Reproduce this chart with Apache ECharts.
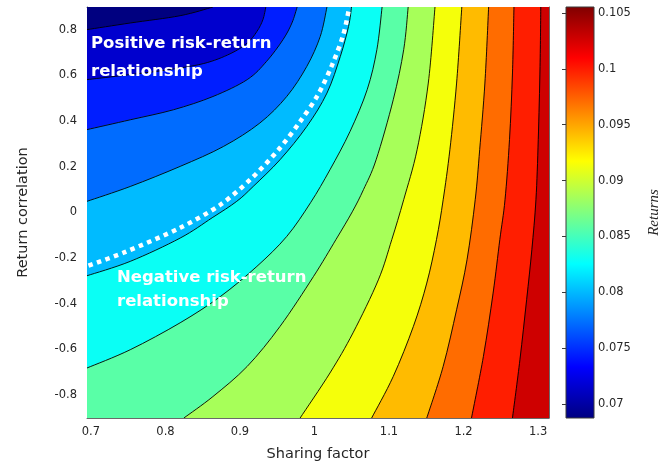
<!DOCTYPE html>
<html><head><meta charset="utf-8">
<script src="https://cdn.jsdelivr.net/npm/echarts@6.0.0/dist/echarts.min.js"></script>
<style>html,body{margin:0;padding:0;background:#fff}#c{width:664px;height:469px}</style>
</head><body><div id="c"></div>
<script>
// ---- axis ranges and ticks ----
const xRange = [0.69, 1.31];
const yRange = [-0.9, 0.9];
const xTicks = [0.7, 0.8, 0.9, 1, 1.1, 1.2, 1.3];
const yTicks = [-0.8, -0.6, -0.4, -0.2, 0, 0.2, 0.4, 0.6, 0.8];
const cbRange = [0.06875, 0.10554];
const cbTicks = [0.07, 0.075, 0.08, 0.085, 0.09, 0.095, 0.1, 0.105];

// ---- band (filled contour) levels: value of each band's lower bound ----
const levels = [0.06875, 0.07158, 0.07441, 0.07724, 0.08007, 0.08290, 0.08573,
                0.08856, 0.09139, 0.09422, 0.09705, 0.09988, 0.10271];

// ---- contour lines (sharing factor, return correlation), one per level 1..12 ----
const contour01 = [[0.69,0.801],[0.748,0.830],[0.815,0.862],[0.859,0.9]];
const contour02 = [[0.69,0.582],[0.735,0.599],[0.792,0.622],[0.846,0.652],[0.882,0.695],[0.905,0.742],[0.918,0.793],[0.926,0.844],[0.930,0.9]];
const contour03 = [[0.69,0.363],[0.748,0.406],[0.806,0.45],[0.859,0.508],[0.905,0.582],[0.931,0.662],[0.953,0.757],[0.965,0.83],[0.972,0.9]];
const contour04 = [[0.69,0.049],[0.748,0.114],[0.815,0.202],[0.873,0.289],[0.922,0.392],[0.958,0.508],[0.985,0.64],[1.003,0.771],[1.012,0.9]];
const contour05 = [[0.69,-0.277],[0.748,-0.214],[0.815,-0.112],[0.858,-0.023],[0.891,0.049],[0.913,0.114],[0.949,0.231],[0.985,0.377],[1.012,0.523],[1.030,0.684],[1.041,0.815],[1.045,0.9]];
const contour06 = [[0.69,-0.681],[0.748,-0.601],[0.815,-0.483],[0.869,-0.368],[0.918,-0.236],[0.958,-0.105],[0.990,0.043],[1.016,0.187],[1.043,0.355],[1.066,0.538],[1.079,0.713],[1.086,0.9]];
const contour07 = [[0.820,-0.9],[0.859,-0.806],[0.905,-0.674],[0.949,-0.499],[0.994,-0.28],[1.024,-0.119],[1.046,0.003],[1.061,0.100],[1.078,0.231],[1.101,0.494],[1.115,0.713],[1.121,0.9]];
const contour08 = [[0.976,-0.9],[1.016,-0.703],[1.047,-0.527],[1.081,-0.295],[1.099,-0.119],[1.115,0.056],[1.133,0.275],[1.148,0.567],[1.157,0.9]];
const contour09 = [[1.072,-0.9],[1.101,-0.718],[1.128,-0.499],[1.146,-0.309],[1.159,-0.119],[1.168,0.056],[1.177,0.275],[1.186,0.567],[1.193,0.9]];
const contour10 = [[1.146,-0.9],[1.168,-0.674],[1.186,-0.426],[1.200,-0.207],[1.211,0.056],[1.217,0.275],[1.224,0.567],[1.229,0.9]];
const contour11 = [[1.206,-0.9],[1.222,-0.630],[1.235,-0.353],[1.244,-0.119],[1.251,0.056],[1.257,0.319],[1.261,0.611],[1.263,0.9]];
const contour12 = [[1.261,-0.9],[1.271,-0.645],[1.280,-0.382],[1.287,-0.163],[1.2925,0.056],[1.2956,0.319],[1.298,0.64],[1.299,0.9]];

// ---- white dotted boundary between positive / negative risk-return ----
const boundaryLine = [[0.692,-0.233],[0.739,-0.176],[0.815,-0.067],[0.869,0.034],[0.909,0.144],[0.947,0.275],[0.976,0.398],[1.000,0.516],[1.019,0.647],[1.034,0.779],[1.042,0.9]];

const contours = [contour01, contour02, contour03, contour04, contour05, contour06,
                  contour07, contour08, contour09, contour10, contour11, contour12];

// jet colormap
const jet = ['#000080','#0000ff','#0080ff','#00ffff','#80ff80','#ffff00','#ff8000','#ff0000','#800000'];

const FONT = "'DejaVu Sans', Verdana, sans-serif";
const TXT = '#262626';
const fmt = v => String(Math.round(v * 1000) / 1000);

// Catmull-Rom style smooth path through pixel points (rendering only)
function smoothD(pts) {
  let d = 'M' + pts[0][0] + ' ' + pts[0][1];
  for (let i = 0; i < pts.length - 1; i++) {
    const p0 = pts[i - 1] || pts[i], p1 = pts[i], p2 = pts[i + 1], p3 = pts[i + 2] || p2;
    const c1 = [p1[0] + (p2[0] - p0[0]) / 6, p1[1] + (p2[1] - p0[1]) / 6];
    const c2 = [p2[0] - (p3[0] - p1[0]) / 6, p2[1] - (p3[1] - p1[1]) / 6];
    d += ' C' + c1[0] + ' ' + c1[1] + ' ' + c2[0] + ' ' + c2[1] + ' ' + p2[0] + ' ' + p2[1];
  }
  return d;
}

function renderBand(params, api) {
  const i = params.dataIndex;
  const [x0, x1] = xRange, [y0, y1] = yRange;
  const col = api.visual('color');
  if (i === 0) {
    const a = api.coord([x0, y1]), b = api.coord([x1, y0]);
    return { type: 'rect', z2: 0, shape: { x: a[0], y: a[1], width: b[0] - a[0], height: b[1] - a[1] },
             style: { fill: col } };
  }
  const ln = contours[i - 1];
  const px = ln.map(p => api.coord(p));
  const corners = [[x1, y1], [x1, y0], [ln[0][0], y0]].map(p => api.coord(p));
  let d = smoothD(px);
  corners.forEach(c => { d += ' L' + c[0] + ' ' + c[1]; });
  d += ' Z';
  return {
    type: 'group',
    children: [
      { type: 'path', z2: i, shape: { pathData: d }, style: { fill: col, stroke: col, lineWidth: 0.6 } },
      { type: 'path', z2: 100 + i, shape: { pathData: smoothD(px) }, style: { stroke: '#000', lineWidth: 0.9, fill: null } }
    ]
  };
}

function renderColorbar(params, api) {
  const a = api.coord([0, cbRange[1]]);
  const b = api.coord([1, cbRange[0]]);
  const stops = jet.slice().reverse().map((c, k) => ({ offset: k / (jet.length - 1), color: c }));
  return {
    type: 'rect',
    shape: { x: a[0], y: a[1], width: b[0] - a[0], height: b[1] - a[1] },
    style: { fill: new echarts.graphic.LinearGradient(0, 0, 0, 1, stops), stroke: '#3a3a3a', lineWidth: 1 }
  };
}

const axisLineStyle = { color: '#6a6a6a', width: 1 };
const tickStyle = { color: '#3a3a3a', width: 1 };

const chart = echarts.init(document.getElementById('c'), null, { renderer: 'canvas' });
chart.setOption({
  animation: false,
  backgroundColor: '#fff',
  grid: [
    { left: 87, top: 7, width: 462, height: 411 },
    { left: 566, top: 7, width: 28, height: 411 }
  ],
  visualMap: {
    show: false, type: 'continuous', seriesIndex: 0, dimension: 1,
    min: cbRange[0], max: cbRange[1], inRange: { color: jet }
  },
  xAxis: [
    { gridIndex: 0, type: 'value', min: xRange[0], max: xRange[1], position: 'bottom',
      axisLine: { onZero: false, lineStyle: axisLineStyle },
      axisTick: { inside: true, length: 5, customValues: xTicks, lineStyle: tickStyle },
      axisLabel: { customValues: xTicks, formatter: fmt, color: TXT, fontSize: 11.5, fontFamily: FONT, margin: 8, padding: [0, 7, 0, 0] },
      splitLine: { show: false },
      name: 'Sharing factor', nameLocation: 'middle', nameGap: 29, nameMoveOverlap: false,
      nameTextStyle: { color: TXT, fontSize: 14.5, fontFamily: FONT } },
    { gridIndex: 0, type: 'value', min: xRange[0], max: xRange[1], position: 'top',
      axisLine: { onZero: false, lineStyle: axisLineStyle },
      axisTick: { inside: true, length: 5, customValues: xTicks, lineStyle: tickStyle },
      axisLabel: { show: false }, splitLine: { show: false } },
    { gridIndex: 1, type: 'value', min: 0, max: 1, show: false }
  ],
  yAxis: [
    { gridIndex: 0, type: 'value', min: yRange[0], max: yRange[1], position: 'left',
      axisLine: { onZero: false, lineStyle: axisLineStyle },
      axisTick: { inside: true, length: 5, customValues: yTicks, lineStyle: tickStyle },
      axisLabel: { customValues: yTicks, formatter: fmt, color: TXT, fontSize: 11.5, fontFamily: FONT, margin: 10 },
      splitLine: { show: false },
      name: 'Return correlation', nameLocation: 'middle', nameGap: 56, nameMoveOverlap: false,
      nameTextStyle: { color: TXT, fontSize: 14.5, fontFamily: FONT } },
    { gridIndex: 0, type: 'value', min: yRange[0], max: yRange[1], position: 'right',
      axisLine: { onZero: false, lineStyle: axisLineStyle },
      axisTick: { inside: true, length: 5, customValues: yTicks, lineStyle: tickStyle },
      axisLabel: { show: false }, splitLine: { show: false } },
    { gridIndex: 1, type: 'value', min: cbRange[0], max: cbRange[1], position: 'right',
      axisLine: { show: false },
      axisTick: { inside: true, length: 4, customValues: cbTicks, lineStyle: tickStyle },
      axisLabel: { customValues: cbTicks, formatter: fmt, color: TXT, fontSize: 11.5, fontFamily: FONT, margin: 4 },
      splitLine: { show: false },
      name: 'Returns', nameLocation: 'middle', nameGap: 53, nameMoveOverlap: false,
      nameTextStyle: { color: TXT, fontSize: 15, fontFamily: "'Liberation Serif', 'DejaVu Serif', serif", fontStyle: 'italic' } }
  ],
  series: [
    { type: 'custom', xAxisIndex: 0, yAxisIndex: 0, renderItem: renderBand, clip: true, silent: true,
      data: levels.map((v, i) => [i, v]), z: 1 },
    { type: 'line', xAxisIndex: 0, yAxisIndex: 0, data: boundaryLine, symbol: 'none', silent: true, z: 5,
      smooth: 0.3,
      lineStyle: { color: '#ffffff', width: 4.5, type: [4.5, 4.5], cap: 'butt' } },
    { type: 'custom', xAxisIndex: 2, yAxisIndex: 2, renderItem: renderColorbar, silent: true,
      data: [[0, 0]], z: 1 }
  ],
  graphic: [
    { type: 'text', x: 91, y: 29.5, z: 100, silent: true,
      style: { text: 'Positive risk-return\nrelationship', fill: '#ffffff', font: "bold 16.5px 'DejaVu Sans', Verdana, sans-serif", lineHeight: 28.4 } },
    { type: 'text', x: 117, y: 266.5, z: 100, silent: true,
      style: { text: 'Negative risk-return\nrelationship', fill: '#ffffff', font: "bold 16.5px 'DejaVu Sans', Verdana, sans-serif", lineHeight: 23.4 } }
  ]
});
</script>
</body></html>
